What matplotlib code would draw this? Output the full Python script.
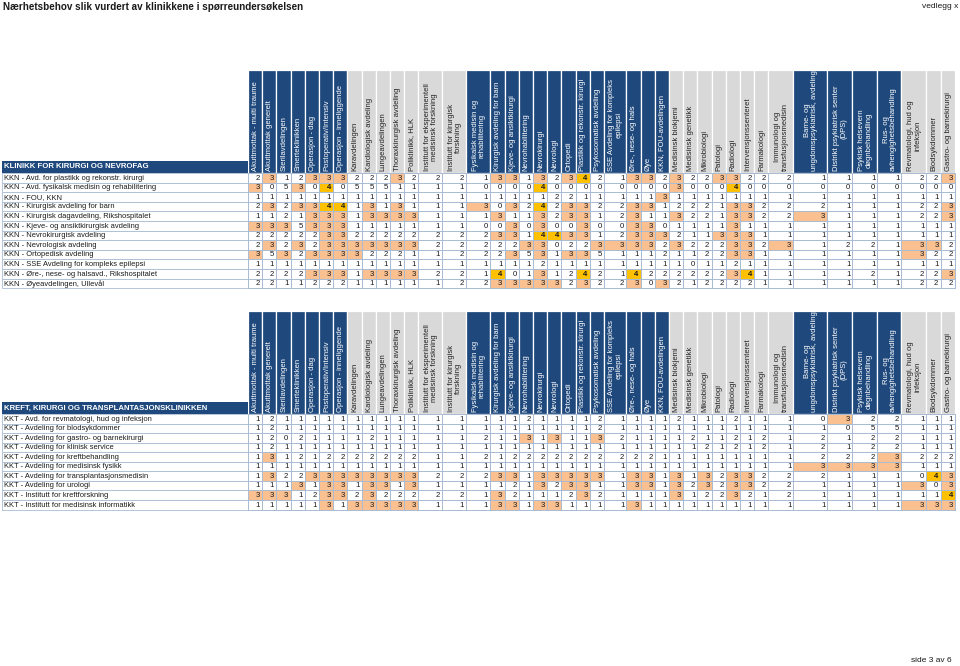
import matplotlib
matplotlib.use('Agg')
import matplotlib.pyplot as plt
from matplotlib import font_manager as fm
from matplotlib.patches import Rectangle
from matplotlib.colors import ListedColormap, BoundaryNorm
import numpy as np

plt.rcParams['font.family'] = ['Liberation Sans', 'DejaVu Sans']
available = {f.name for f in fm.fontManager.ttflist}
NARROW = 'Liberation Sans Narrow' if 'Liberation Sans Narrow' in available else 'Liberation Sans'

# ---------------- data ----------------
columns = [
    "Akuttmottak - multi traume", "Akuttmottak generelt", "Sterilavdelingen", "Smerteklinikken",
    "Operasjon - dag", "Postoperativ/Intensiv", "Operasjon - inneliggende",
    "Karavdelingen", "Kardiologisk avdeling", "Lungeavdelingen", "Thoraxkirurgisk avdeling",
    "Poliklinikk, HLK", "Institutt for eksperimentell\nmedisinsk forskning",
    "Institutt for kirurgisk\nforskning",
    "Fysikalsk medisin og\nrehabilitering", "Kirurgisk avdeling for barn", "Kjeve- og ansiktkirurgi",
    "Nevrohabilitering", "Nevrokirurgi", "Nevrologi", "Ortopedi", "Plastikk og rekonstr. kirurgi",
    "Psykosomatisk avdeling", "SSE Avdeling for kompleks\nepilepsi", "Øre-, nese- og hals", "Øye",
    "KKN, FOU-avdelingen",
    "Medisinsk biokjemi", "Medisinsk genetikk", "Mikrobiologi", "Patologi", "Radiologi",
    "Intervensjonssenteret", "Farmakologi", "Immunologi og\ntransfusjonsmedisin",
    "Barne- og\nungdomspsykiatrisk, avdeling", "Distrikt psykiatrisk senter\n(DPS)",
    "Psykisk helsevern\ndøgnbehandling", "Rus- og\navhengighetsbehandling",
    "Revmatologi, hud og\ninfeksjon", "Blodsykdommer", "Gastro- og barnekirurgi",
]
column_groups = ['b'] * 7 + ['g'] * 7 + ['b'] * 13 + ['g'] * 8 + ['b'] * 4 + ['g'] * 3

kkn_title = "KLINIKK FOR KIRURGI OG NEVROFAG"
kkn_labels = [
    "KKN - Avd. for plastikk og rekonstr. kirurgi",
    "KKN - Avd. fysikalsk medisin og rehabilitering",
    "KKN - FOU, KKN",
    "KKN - Kirurgisk avdeling for barn",
    "KKN - Kirurgisk dagavdeling, Rikshospitalet",
    "KKN - Kjeve- og ansiktkirurgisk avdeling",
    "KKN - Nevrokirurgisk avdeling",
    "KKN - Nevrologisk avdeling",
    "KKN - Ortopedisk avdeling",
    "KKN - SSE Avdeling for kompleks epilepsi",
    "KKN - Øre-, nese- og halsavd., Rikshospitalet",
    "KKN - Øyeavdelingen, Ullevål",
]
kkn_values = [
    [2,3,1,2,3,3,3,2,2,2,3,2,2,2,1, 3,3,1,3,2,3,4,2,1,3,3,2,3,2,2,3, 3,2,2,2,1,1,1,1,2,2,3],
    [3,0,5,3,0,4,0,5,5,5,1,1,1,1,0, 0,0,0,4,0,0,0,0,0,0,0,0,3,0,0,0, 4,0,0,0,0,0,0,0,0,0,0],
    [1,1,1,1,1,1,1,1,1,1,1,1,1,1,1, 1,1,1,1,2,2,1,1,1,1,1,3,1,1,1,1, 1,1,1,1,1,1,1,1,1,1,1],
    [2,3,2,3,3,4,4,1,3,1,3,1,1,1,3, 0,3,2,4,2,3,3,2,2,3,3,1,2,2,2,1, 3,3,2,2,2,1,1,1,2,2,3],
    [1,1,2,1,3,3,3,1,3,3,3,3,1,1,1, 3,1,1,3,2,3,3,1,2,3,1,1,3,2,2,1, 3,3,2,2,3,1,1,1,2,2,3],
    [3,3,3,5,3,3,3,1,1,1,1,1,1,1,0, 0,3,0,3,0,0,3,0,0,3,3,0,1,1,1,1, 3,1,1,1,1,1,1,1,1,1,1],
    [2,2,2,2,2,3,3,2,2,2,2,2,2,2,2, 3,3,1,4,4,3,3,1,2,3,3,3,2,1,1,3, 3,3,1,1,1,1,1,1,1,1,1],
    [2,3,2,3,2,3,3,3,3,3,3,3,2,2,2, 2,2,3,3,0,2,2,3,3,3,3,2,3,2,2,2, 3,3,2,3,1,2,2,1,3,3,2],
    [3,5,3,2,3,3,3,3,2,2,2,1,1,2,2, 2,3,5,3,1,3,3,5,1,1,1,2,1,1,2,2, 3,3,1,1,1,1,1,1,3,2,2],
    [1,1,1,1,1,1,1,1,1,1,1,1,1,1,1, 1,1,1,2,1,1,1,1,1,1,1,1,1,0,1,1, 2,1,1,1,1,1,1,1,1,1,1],
    [2,2,2,2,3,3,3,1,3,3,3,3,2,2,1, 4,0,1,3,1,2,4,2,1,4,2,2,2,2,2,2, 3,4,1,1,1,1,2,1,2,2,3],
    [2,2,1,1,2,2,2,1,1,1,1,1,1,2,2, 3,3,3,3,3,2,3,2,2,3,0,3,2,1,2,2, 2,2,1,1,1,1,1,1,2,2,2],
]

kkt_title = "KREFT, KIRURGI OG TRANSPLANTASJONSKLINIKKEN"
kkt_labels = [
    "KKT - Avd. for revmatologi, hud og infeksjon",
    "KKT - Avdeling for blodsykdommer",
    "KKT - Avdeling for gastro- og barnekirurgi",
    "KKT - Avdeling for klinisk service",
    "KKT - Avdeling for kreftbehandling",
    "KKT - Avdeling for medisinsk fysikk",
    "KKT - Avdeling for transplantasjonsmedisin",
    "KKT - Avdeling for urologi",
    "KKT - Institutt for kreftforskning",
    "KKT - Institutt for medisinsk informatikk",
]
kkt_values = [
    [1,2,1,1,1,1,1,1,1,1,1,1,1,1,1, 1,1,2,1,1,1,1,2,1,1,1,1,2,1,1,1, 2,1,1,1,0,3,2,2,1,1,1],
    [1,2,1,1,1,1,1,1,1,1,1,1,1,1,1, 1,1,1,1,1,1,1,2,1,1,1,1,1,1,1,1, 1,1,1,1,1,0,5,5,1,1,1],
    [1,2,0,2,1,1,1,1,2,1,1,1,1,1,2, 1,1,3,1,3,1,1,3,2,1,1,1,1,2,1,1, 2,1,2,1,2,1,2,2,1,1,1],
    [1,2,1,1,1,1,1,1,1,1,1,1,1,1,1, 1,1,1,1,1,1,1,1,1,1,1,1,1,1,2,1, 2,1,2,1,2,1,2,2,1,1,1],
    [1,3,1,2,1,2,2,2,2,2,2,2,1,1,2, 1,2,2,2,2,2,2,2,2,2,2,1,1,1,1,1, 1,1,1,1,2,2,2,3,2,2,2],
    [1,1,1,1,1,1,1,1,1,1,1,1,1,1,1, 1,1,1,1,1,1,1,1,1,1,1,1,1,1,1,1, 1,1,1,1,3,3,3,3,1,1,1],
    [1,3,2,2,3,3,3,3,3,3,3,3,2,2,2, 3,3,1,3,3,3,3,3,1,3,3,1,3,1,3,2, 3,3,2,2,2,1,1,1,0,4,3],
    [1,1,1,3,1,3,3,1,3,3,1,3,1,1,1, 1,2,1,3,2,3,3,1,1,3,3,1,3,2,3,2, 3,3,2,2,1,1,1,1,3,0,3],
    [3,3,3,1,2,3,3,2,3,2,2,2,2,2,1, 3,2,1,1,1,2,3,2,1,1,1,1,3,1,2,2, 3,2,1,2,1,1,1,1,1,1,4],
    [1,1,1,1,1,3,1,3,3,3,3,3,1,1,1, 3,3,1,3,3,1,1,1,1,3,1,1,1,1,1,1, 1,1,1,1,1,1,1,1,3,3,3],
]

page_title = "Nærhetsbehov slik vurdert av klinikkene i spørreundersøkelsen"
page_note = "vedlegg x"
page_number = "side 3 av 6"

# ---------------- style / layout ----------------
DARK = '#1F497D'
GRAY = '#D9D9D9'
PEACH = '#FAC090'
GOLD = '#FFC000'
GRID = '#A9BCD3'

NARROW_W = 14.2
wide_w = {12: 24, 13: 24, 14: 24, 23: 22.5, 34: 25, 35: 34, 36: 25, 37: 25, 38: 24, 39: 25}
col_w = np.array([wide_w.get(i, NARROW_W) for i in range(len(columns))])
X0 = 248.0
LABEL_X0 = 2.0
x_edges = X0 + np.concatenate([[0], np.cumsum(col_w)])

cmap = ListedColormap(['white', 'white', 'white', PEACH, GOLD, 'white'])
norm = BoundaryNorm(np.arange(-0.5, 6.5, 1), cmap.N)

fig = plt.figure(figsize=(9.6, 6.66), dpi=100)
ax = fig.add_axes([0, 0, 1, 1])
ax.set_xlim(0, 960)
ax.set_ylim(666, 0)
ax.axis('off')


def draw_table(y_head, y_data, row_h, title, labels, values):
    vals = np.array(values)
    nrows = vals.shape[0]
    y_edges = y_data + np.arange(nrows + 1) * row_h
    # header cells
    for j, name in enumerate(columns):
        fc = DARK if column_groups[j] == 'b' else GRAY
        tc = 'white' if column_groups[j] == 'b' else '#222222'
        ax.add_patch(Rectangle((x_edges[j], y_head), col_w[j], y_data - y_head,
                               facecolor=fc, edgecolor='white', linewidth=0.9))
        ax.text(x_edges[j] + col_w[j] / 2 + 0.3, y_data - 2, name, rotation=90,
                ha='center', va='bottom', fontsize=5.5, color=tc, linespacing=1.05)
    # title band
    ax.add_patch(Rectangle((LABEL_X0, y_data - 12.5), X0 - LABEL_X0, 12.5,
                           facecolor=DARK, edgecolor='none'))
    ax.text(LABEL_X0 + 2, y_data - 6, title, ha='left', va='center',
            fontsize=5.6, fontweight='bold', color='white')
    # label column
    for i, lab in enumerate(labels):
        ax.add_patch(Rectangle((LABEL_X0, y_edges[i]), X0 - LABEL_X0, row_h,
                               facecolor='white', edgecolor=GRID, linewidth=0.6))
        ax.text(LABEL_X0 + 2.5, (y_edges[i] + y_edges[i + 1]) / 2 + 0.3, lab,
                ha='left', va='center', fontsize=5.4, color='#1a1a1a')
    # value cells
    ax.pcolormesh(x_edges, y_edges, vals, cmap=cmap, norm=norm,
                  edgecolors=GRID, linewidth=0.6)
    for i in range(nrows):
        yc = (y_edges[i] + y_edges[i + 1]) / 2 + 0.3
        for j in range(len(columns)):
            v = vals[i, j]
            ax.text(x_edges[j + 1] - 2.2, yc, str(v), ha='right', va='center',
                    fontsize=5.6, color='#1a1a1a',
                    fontweight='bold' if v == 4 else 'normal')


draw_table(70, 173, 9.6, kkn_title, kkn_labels, kkn_values)
draw_table(311, 414, 9.55, kkt_title, kkt_labels, kkt_values)

ax.text(3, 6.5, page_title, ha='left', va='center', fontsize=7.1,
        fontweight='bold', family=NARROW, color='#1a1a1a')
ax.text(958, 6.5, page_note, ha='right', va='center', fontsize=6,
        family=NARROW, color='#1a1a1a')
ax.text(952, 660, page_number, ha='right', va='center', fontsize=6,
        color='#1a1a1a')

fig.savefig('out.png', dpi=100)
